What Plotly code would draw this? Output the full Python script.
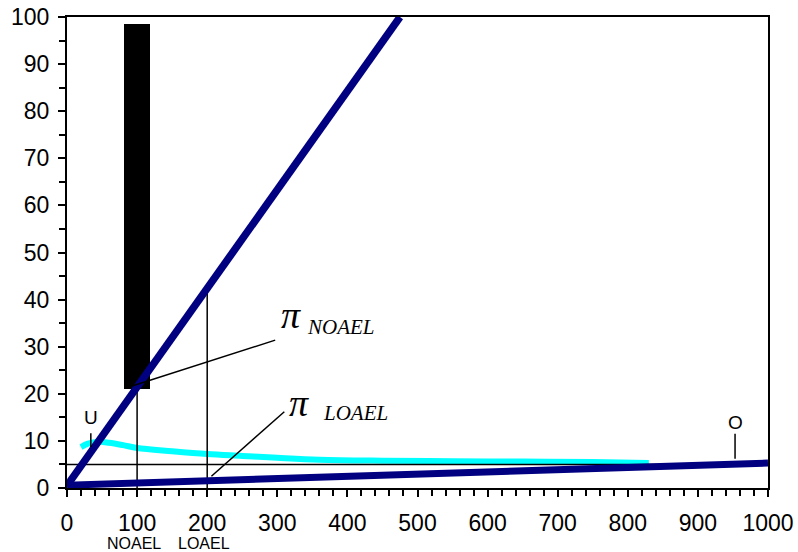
import plotly.graph_objects as go

# Dose axis (x) and response axis (y) data
upper_line_x = [0, 475]
upper_line_y = [0.5, 100]
lower_line_x = [0, 1000]
lower_line_y = [0.6, 5.3]

curve_x = [20, 30, 45, 60, 80, 100, 150, 200, 250, 300, 360, 450, 550, 650, 750, 830]
curve_y = [8.7, 9.4, 9.8, 9.6, 9.1, 8.5, 7.8, 7.2, 6.8, 6.4, 6.0, 5.8, 5.7, 5.6, 5.5, 5.3]

bar_x = [100]
bar_base = [21]
bar_top = [98.5]
bar_width = 36

threshold_y = 5
noael_x = 100
noael_y = 21.4
loael_x = 200
loael_y = 42

noael_leader_x = [94, 297]
noael_leader_y = [21.7, 31.4]
loael_leader_x = [206, 310]
loael_leader_y = [2.5, 16.2]

u_mark_x = [34, 34]
u_mark_y = [8.7, 11.6]
o_mark_x = [953, 953]
o_mark_y = [6.2, 11.5]

x_ticks = list(range(0, 1001, 100))
y_ticks = list(range(0, 101, 10))

NAVY = "#000080"
CYAN = "#00FFFF"

fig = go.Figure()

fig.add_trace(go.Bar(
    x=bar_x, y=[bar_top[0] - bar_base[0]], base=bar_base, width=bar_width,
    marker=dict(color="black", line=dict(width=0)), hoverinfo="skip"))

fig.add_trace(go.Scatter(x=curve_x, y=curve_y, mode="lines",
                         line=dict(color=CYAN, width=6, shape="spline")))

fig.add_trace(go.Scatter(x=[0, 1000], y=[threshold_y, threshold_y], mode="lines",
                         line=dict(color="black", width=1.5)))
fig.add_trace(go.Scatter(x=[noael_x, noael_x], y=[0, noael_y], mode="lines",
                         line=dict(color="black", width=1.5)))
fig.add_trace(go.Scatter(x=[loael_x, loael_x], y=[0, loael_y], mode="lines",
                         line=dict(color="black", width=1.5)))

fig.add_trace(go.Scatter(x=upper_line_x, y=upper_line_y, mode="lines",
                         line=dict(color=NAVY, width=7.5)))
fig.add_trace(go.Scatter(x=lower_line_x, y=lower_line_y, mode="lines",
                         line=dict(color=NAVY, width=7)))

for lx, ly in [(noael_leader_x, noael_leader_y), (loael_leader_x, loael_leader_y),
               (u_mark_x, u_mark_y), (o_mark_x, o_mark_y)]:
    fig.add_trace(go.Scatter(x=lx, y=ly, mode="lines",
                             line=dict(color="black", width=1.5)))

serif = "Liberation Serif, Times New Roman, serif"
sans = "Liberation Sans, Arial, sans-serif"

annotations = [
    dict(x=319, y=36.7, text="<i>π</i>", font=dict(family=serif, size=38, color="black")),
    dict(x=391, y=34.2, text="<i>NOAEL</i>", font=dict(family=serif, size=21, color="black")),
    dict(x=331, y=18.0, text="<i>π</i>", font=dict(family=serif, size=38, color="black")),
    dict(x=411, y=15.9, text="<i>LOAEL</i>", font=dict(family=serif, size=21, color="black")),
    dict(x=34, y=15, text="U", font=dict(family=sans, size=19, color="black")),
    dict(x=954, y=14, text="O", font=dict(family=sans, size=19, color="black")),
]
for a in annotations:
    fig.add_annotation(xref="x", yref="y", showarrow=False, **a)

for xv, label in [(noael_x, "NOAEL"), (loael_x, "LOAEL")]:
    fig.add_annotation(x=xv - 4, y=-0.117, xref="x", yref="paper", text=label,
                       showarrow=False, yanchor="middle",
                       font=dict(family=sans, size=16, color="black"))

axis_common = dict(ticks="outside", ticklen=7, tickwidth=1.5, tickcolor="black",
                   showline=True, linewidth=2, linecolor="black", mirror=True,
                   showgrid=False, zeroline=False, automargin=False,
                   tickfont=dict(family=sans, size=23, color="black"))

fig.update_xaxes(range=[0, 1000], tickvals=x_ticks, ticklabelstandoff=6,
                 minor=dict(dtick=20, ticks="outside", ticklen=6, tickwidth=1.5,
                            tickcolor="black", showgrid=False),
                 **axis_common)
fig.update_yaxes(range=[0, 100], tickvals=y_ticks, ticklabelstandoff=4,
                 minor=dict(dtick=5, ticks="outside", ticklen=6, tickwidth=1.5,
                            tickcolor="black", showgrid=False),
                 **axis_common)

fig.update_layout(width=798, height=552, margin=dict(l=67, r=30, t=17, b=64),
                  plot_bgcolor="white", paper_bgcolor="white", showlegend=False,
                  bargap=0)

fig.write_html("out.html")
